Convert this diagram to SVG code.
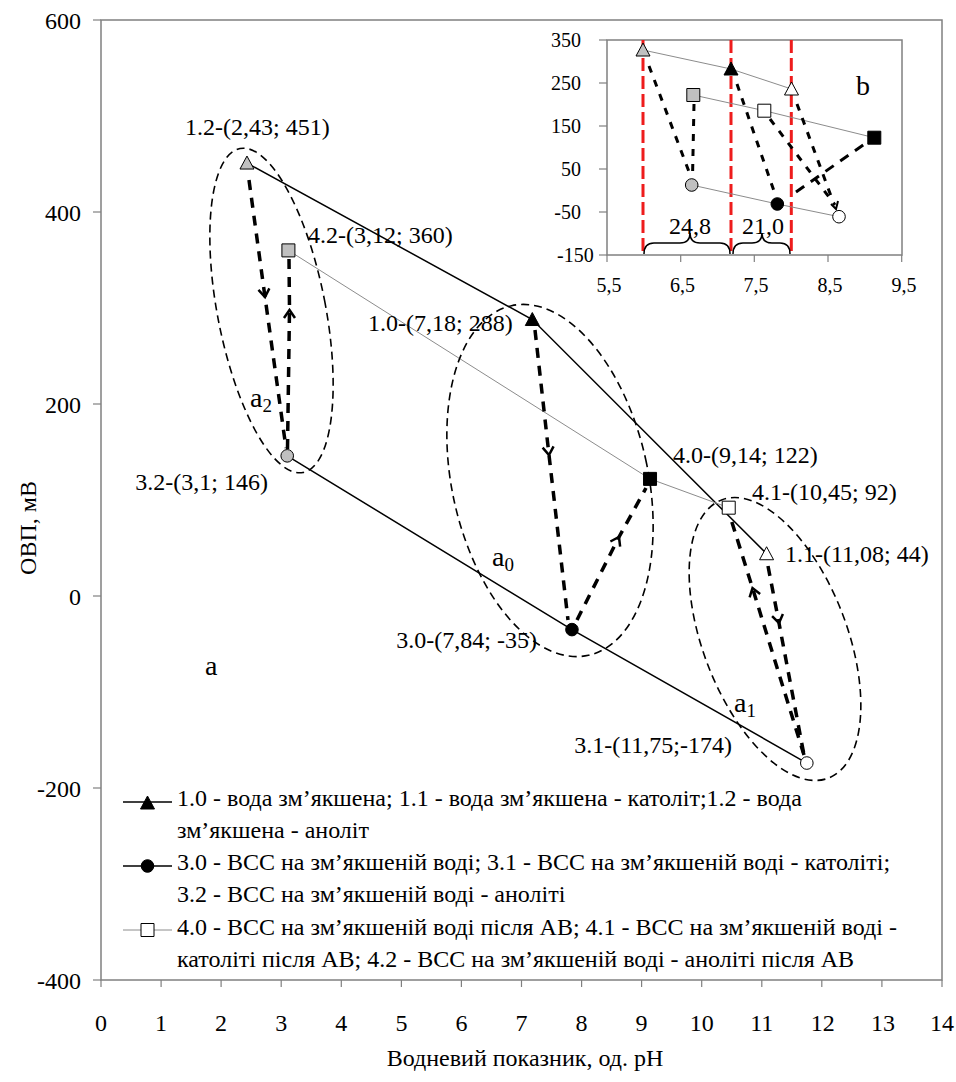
<svg xmlns="http://www.w3.org/2000/svg" xmlns:xlink="http://www.w3.org/1999/xlink" width="956" height="1082" viewBox="0 0 956 1082" font-family="'Liberation Serif', 'Times New Roman', serif">
<style>
.t24{font-size:24px;font-family:"Liberation Serif","Times New Roman",serif}
.t20{font-size:20px;font-family:"Liberation Serif","Times New Roman",serif}
.lab{font-size:28px;font-family:"Liberation Serif","Times New Roman",serif}
.frame{fill:none;stroke:#808080;stroke-width:1.5}
.tick{stroke:#808080;stroke-width:1.2}
.s1{fill:none;stroke:#000;stroke-width:1.5}
.s4{fill:none;stroke:#8c8c8c;stroke-width:1}
.ell{fill:none;stroke:#000;stroke-width:1.6;stroke-dasharray:8 5}
.flow{fill:none;stroke:#000;stroke-width:3.5;stroke-dasharray:10 8}
.iflow{fill:none;stroke:#000;stroke-width:3;stroke-dasharray:7 8}
.red{stroke:#ee1c1c;stroke-width:3;stroke-dasharray:13 5}
.mk{stroke:#000;stroke-width:1}
.gray{fill:#c0c0c0}
.blk{fill:#000}
.wht{fill:#fff}
.brace{fill:none;stroke:#000;stroke-width:1.5}
</style>
<defs>
<path id="tri" d="M0,-7 L7,6 L-7,6 Z"/>
<path id="sq" d="M-6.5,-6.5 H6.5 V6.5 H-6.5 Z"/>
<circle id="ci" cx="0" cy="0" r="6.3"/>
<marker id="arr" markerUnits="userSpaceOnUse" markerWidth="24" markerHeight="24" viewBox="-12 -12 24 24" refX="0" refY="0" orient="auto">
<path d="M-8,-5.5 L0,0 L-8,5.5" fill="none" stroke="#000" stroke-width="2.5"/>
</marker>
</defs>
<rect width="956" height="1082" fill="#fff"/>

<g id="main-axes">
<rect class="frame" x="101" y="20" width="841" height="960"/>
<g class="tick">
<line x1="93" y1="20" x2="101" y2="20"/><line x1="93" y1="212" x2="101" y2="212"/><line x1="93" y1="404" x2="101" y2="404"/><line x1="93" y1="596" x2="101" y2="596"/><line x1="93" y1="788" x2="101" y2="788"/><line x1="93" y1="980" x2="101" y2="980"/>
<line x1="101" y1="980" x2="101" y2="987"/><line x1="161.1" y1="980" x2="161.1" y2="987"/><line x1="221.1" y1="980" x2="221.1" y2="987"/><line x1="281.2" y1="980" x2="281.2" y2="987"/><line x1="341.3" y1="980" x2="341.3" y2="987"/><line x1="401.4" y1="980" x2="401.4" y2="987"/><line x1="461.4" y1="980" x2="461.4" y2="987"/><line x1="521.5" y1="980" x2="521.5" y2="987"/><line x1="581.6" y1="980" x2="581.6" y2="987"/><line x1="641.6" y1="980" x2="641.6" y2="987"/><line x1="701.7" y1="980" x2="701.7" y2="987"/><line x1="761.8" y1="980" x2="761.8" y2="987"/><line x1="821.8" y1="980" x2="821.8" y2="987"/><line x1="881.9" y1="980" x2="881.9" y2="987"/><line x1="942" y1="980" x2="942" y2="987"/>
</g>
<g class="t24" text-anchor="end">
<text x="81" y="29">600</text><text x="81" y="221">400</text><text x="81" y="413">200</text><text x="81" y="605">0</text><text x="81" y="797">-200</text><text x="81" y="989">-400</text>
</g>
<g class="t24" text-anchor="middle">
<text x="101" y="1031">0</text><text x="161.1" y="1031">1</text><text x="221.1" y="1031">2</text><text x="281.2" y="1031">3</text><text x="341.3" y="1031">4</text><text x="401.4" y="1031">5</text><text x="461.4" y="1031">6</text><text x="521.5" y="1031">7</text><text x="581.6" y="1031">8</text><text x="641.6" y="1031">9</text><text x="701.7" y="1031">10</text><text x="761.8" y="1031">11</text><text x="822.8" y="1031">12</text><text x="882.9" y="1031">13</text><text x="942" y="1031">14</text>
</g>
<text class="t24" text-anchor="middle" transform="translate(36,528) rotate(-90)">ОВП, мВ</text>
<text class="t24" text-anchor="middle" x="525" y="1066">Водневий показник, од. pH</text>
</g>

<g id="connectors">
<polyline class="s1" points="246.97,163.04 532.3,319.52 766.58,553.76"/>
<polyline class="s1" points="287.22,455.84 571.95,629.6 806.82,763.04"/>
<polyline class="s4" points="288.42,250.4 650.04,478.88 728.73,507.68"/>
<ellipse class="ell" cx="271.5" cy="310.5" rx="54" ry="165" transform="rotate(-11 271.5 310.5)"/>
<ellipse class="ell" cx="550" cy="480.5" rx="98" ry="179" transform="rotate(-12.4 550 480.5)"/>
<ellipse class="ell" cx="775" cy="639" rx="72" ry="149" transform="rotate(-21 775 639)"/>
<path class="flow" d="M249,180 L265,297 L286,448" marker-mid="url(#arr)"/>
<path class="flow" d="M287.5,449 L289.5,310 L289,258" marker-mid="url(#arr)"/>
<path class="flow" d="M535,330 L549,455 L568,620" marker-mid="url(#arr)"/>
<path class="flow" d="M577,620 L619,537 L646,488" marker-mid="url(#arr)"/>
<path class="flow" d="M768,566 L779,623 L804,755" marker-mid="url(#arr)"/>
<path class="flow" d="M804,755 L752.5,588 L730,516" marker-mid="url(#arr)"/>
</g>

<g id="p1-2"><use href="#tri" x="246.97" y="163.04" class="mk gray"/><text class="t24" x="185" y="135">1.2-(2,43; 451)</text></g>
<g id="p1-0"><use href="#tri" x="532.3" y="319.52" class="mk blk"/><text class="t24" x="368" y="331">1.0-(7,18; 288)</text></g>
<g id="p1-1"><use href="#tri" x="766.58" y="553.76" class="mk wht"/><text class="t24" x="785" y="562">1.1-(11,08; 44)</text></g>
<g id="p3-2"><use href="#ci" x="287.22" y="455.84" class="mk gray"/><text class="t24" x="268" y="490" text-anchor="end">3.2-(3,1; 146)</text></g>
<g id="p3-0"><use href="#ci" x="571.95" y="629.6" class="mk blk"/><text class="t24" x="537" y="648" text-anchor="end">3.0-(7,84; -35)</text></g>
<g id="p3-1"><use href="#ci" x="806.82" y="763.04" class="mk wht"/><text class="t24" x="732" y="753" text-anchor="end">3.1-(11,75;-174)</text></g>
<g id="p4-2"><use href="#sq" x="288.42" y="250.4" class="mk gray"/><text class="t24" x="308" y="243">4.2-(3,12; 360)</text></g>
<g id="p4-0"><use href="#sq" x="650.04" y="478.88" class="mk blk"/><text class="t24" x="673" y="463">4.0-(9,14; 122)</text></g>
<g id="p4-1"><use href="#sq" x="728.73" y="507.68" class="mk wht"/><text class="t24" x="752" y="500">4.1-(10,45; 92)</text></g>

<g id="labels-a">
<text class="lab" x="250" y="407">a<tspan font-size="19" dy="5">2</tspan></text>
<text class="lab" x="492" y="566">a<tspan font-size="19" dy="5">0</tspan></text>
<text class="lab" x="734" y="712">a<tspan font-size="19" dy="5">1</tspan></text>
<text class="lab" x="205" y="675">a</text>
</g>

<g id="legend">
<line class="s1" x1="123" y1="802" x2="172" y2="802"/><use href="#tri" x="147.5" y="803" class="mk blk"/>
<text class="t24" x="177" y="806">1.0 - вода зм’якшена; 1.1 - вода зм’якшена - католіт;1.2 - вода</text>
<text class="t24" x="177" y="838">зм’якшена - аноліт</text>
<line class="s1" x1="123" y1="866" x2="172" y2="866"/><use href="#ci" x="147.5" y="866" class="mk blk"/>
<text class="t24" x="177" y="870">3.0 - ВСС на зм’якшеній воді; 3.1 - ВСС на зм’якшеній воді - католіті;</text>
<text class="t24" x="177" y="902">3.2 - ВСС на зм’якшеній воді - аноліті</text>
<line class="s4" x1="123" y1="930" x2="172" y2="930"/><use href="#sq" x="147.5" y="930" class="mk wht"/>
<text class="t24" x="177" y="935">4.0 - ВСС на зм’якшеній воді після АВ; 4.1 - ВСС на зм’якшеній воді -</text>
<text class="t24" x="177" y="967">католіті після АВ; 4.2 - ВСС на зм’якшеній воді - аноліті після АВ</text>
</g>

<g id="inset-b">
<rect x="607" y="40" width="295" height="215" fill="#fff" stroke="#808080" stroke-width="1.5"/>
<g class="tick">
<line x1="599" y1="40" x2="607" y2="40"/><line x1="599" y1="83" x2="607" y2="83"/><line x1="599" y1="126" x2="607" y2="126"/><line x1="599" y1="169" x2="607" y2="169"/><line x1="599" y1="212" x2="607" y2="212"/><line x1="599" y1="255" x2="607" y2="255"/>
<line x1="607" y1="255" x2="607" y2="262"/><line x1="680.7" y1="255" x2="680.7" y2="262"/><line x1="754.3" y1="255" x2="754.3" y2="262"/><line x1="828" y1="255" x2="828" y2="262"/><line x1="901.7" y1="255" x2="901.7" y2="262"/>
</g>
<g class="t20" text-anchor="end">
<text x="581" y="47">350</text><text x="581" y="90">250</text><text x="581" y="133">150</text><text x="581" y="176">50</text><text x="581" y="219">-50</text>
</g>
<text class="t20" x="557" y="262">-150</text>
<g class="t20" text-anchor="middle">
<text x="609" y="292">5,5</text><text x="682.5" y="292">6,5</text><text x="756" y="292">7,5</text><text x="830" y="292">8,5</text><text x="904" y="292">9,5</text>
</g>
<g id="inset-red">
<line class="red" x1="643" y1="40" x2="643" y2="255"/>
<line class="red" x1="731" y1="40" x2="731" y2="255"/>
<line class="red" x1="791.3" y1="40" x2="791.3" y2="255"/>
</g>
<g id="inset-connectors">
<polyline class="s4" points="643,50 731,69 791.5,89"/>
<polyline class="s4" points="693.3,95 764.3,110.7 874.3,137.7"/>
<polyline class="s4" points="691.7,185 777.3,204 839,216.7"/>
<path class="iflow" d="M649,66 L691,177"/>
<path class="iflow" d="M694,104 L692.5,178"/>
<path class="iflow" d="M737,84 L775,194"/>
<path class="iflow" d="M796,192 L866,143" style="stroke-dasharray:10 8"/>
<path class="iflow" d="M797,104 L831,196"/>
<path class="iflow" d="M770,119 L835,205"/>
<path d="M831,204 L836,209 L838,201" fill="none" stroke="#000" stroke-width="2"/>
</g>
<use href="#tri" x="643" y="50" class="mk gray"/>
<use href="#tri" x="731" y="69" class="mk blk"/>
<use href="#tri" x="791.5" y="89" class="mk wht"/>
<use href="#sq" x="693.3" y="95" class="mk gray"/>
<use href="#sq" x="764.3" y="110.7" class="mk wht"/>
<use href="#sq" x="874.3" y="137.7" class="mk blk"/>
<use href="#ci" x="691.7" y="185" class="mk gray"/>
<use href="#ci" x="777.3" y="204" class="mk blk"/>
<use href="#ci" x="839" y="216.7" class="mk wht"/>
<path class="brace" d="M644,254 Q644,243 654,243 L680,243 Q690,243 690,233 Q690,243 700,243 L720,243 Q730,243 730,254"/>
<path class="brace" d="M733,254 Q733,243 743,243 L752,243 Q762,243 762,233 Q762,243 772,243 L780,243 Q790,243 790,254"/>
<text class="t24" x="690" y="234" text-anchor="middle">24,8</text>
<text class="t24" x="763" y="234" text-anchor="middle">21,0</text>
<text class="lab" x="856" y="95" font-size="27">b</text>
</g>
</svg>
